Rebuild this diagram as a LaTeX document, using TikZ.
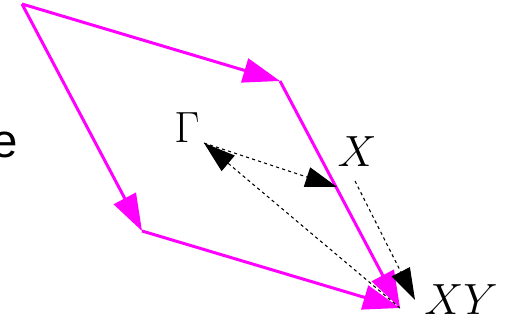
\documentclass[tikz,border=0pt]{standalone}
\usepackage{fontspec}
\newfontfamily\labelsans{Liberation Sans}
\usetikzlibrary{arrows.meta}
\definecolor{cellpink}{RGB}{255,0,255}
\tikzset{
  side/.style={draw=cellpink, fill=cellpink, line width=1.7pt, -{Triangle[length=21pt,width=14pt]}},
  loopline/.style={draw=black, line width=0.6pt, dash pattern=on 1.8pt off 1.8pt, -{Triangle[length=18pt,width=11.5pt]}},
  lbl/.style={inner sep=0pt, font=\fontsize{27}{32}\selectfont}
}
\begin{document}
\begin{tikzpicture}[x=0.02cm, y=-0.02cm]
    \useasboundingbox (0,0) rectangle (514,323);
    % corners of the cell
    \coordinate (A) at (22,4);
    \coordinate (B) at (280,81);
    \coordinate (C) at (142,231);
    \coordinate (D) at (400,308);
    % points of the path
    \coordinate (gampt) at (204,143);
    \coordinate (xpt) at (337,187);
    \coordinate (xs) at (355,181);
    \coordinate (xys) at (415,300);

    \node (plane) [lbl, anchor=east, font=\fontsize{27}{32}\labelsans] at (18,145) {e};
    \node (gam) [lbl] at (187,128) {$\Gamma$};
    \node (xl) [lbl] at (357,152) {$X$};
    \node (xyl) [lbl] at (461,300) {$XY$};

    \draw [side] (A) -- (B);
    \draw [side] (A) -- (C);
    \draw [side] (C) -- (D);
    \draw [side] (B) -- (D);

    \draw [loopline] (gampt) -- (xpt);
    \draw [loopline] (xs) -- (xys);
    \draw [loopline] (D) -- (gampt);
\end{tikzpicture}
\end{document}
